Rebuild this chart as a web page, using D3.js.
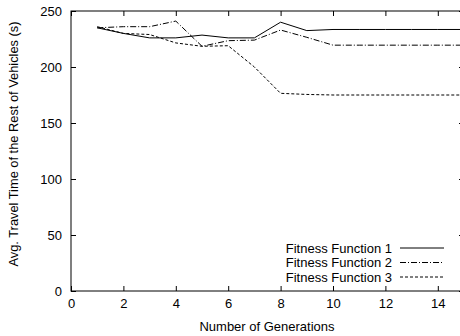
<!DOCTYPE html>
<html>
<head>
<meta charset="utf-8">
<script src="https://cdn.jsdelivr.net/npm/d3@7"></script>
<style>
  body { margin: 0; background: #fff; }
  svg { display: block; }
  text { font-family: "Liberation Sans", Arial, sans-serif; font-size: 13px; fill: #000; }
</style>
</head>
<body>
<div id="viz"></div>
<script>
var generations = [1, 2, 3, 4, 5, 6, 7, 8, 9, 10, 11, 12, 13, 14, 15];
var ff1 = [235, 230, 226, 226, 228.5, 226, 226, 240, 232.5, 233.5, 233.5, 233.5, 233.5, 233.5, 233.5];
var ff2 = [235, 236, 236, 241, 218.5, 223.5, 224, 233, 226.5, 219.5, 219.5, 219.5, 219.5, 219.5, 219.5];
var ff3 = [236, 230, 229, 221.5, 218.5, 219, 200, 176.5, 175.5, 175, 175, 175, 175, 175, 175];
var seriesNames = ["Fitness Function 1", "Fitness Function 2", "Fitness Function 3"];
var xTicks = [0, 2, 4, 6, 8, 10, 12, 14];
var yTicks = [0, 50, 100, 150, 200, 250];

var series = [ff1, ff2, ff3];
var dashes = [null, "6,2,1,2", "3,2"];

var width = 460, height = 336;
var margin = {top: 11, right: -4, bottom: 45, left: 71};

var svg = d3.select("#viz").append("svg").attr("width", width).attr("height", height);

var x = d3.scaleLinear().domain([0, 15]).range([margin.left, width - margin.right]);
var y = d3.scaleLinear().domain([0, 250]).range([height - margin.bottom, margin.top]);

var g = svg.append("g");

// frame
g.append("rect")
    .attr("x", x(0)).attr("y", y(250))
    .attr("width", x(15) - x(0)).attr("height", y(0) - y(250))
    .style("fill", "none").style("stroke", "#000").style("stroke-width", 1);

// bottom axis
var xb = g.append("g").attr("transform", "translate(0," + y(0) + ")")
    .call(d3.axisBottom(x).tickValues(xTicks).tickSize(-5).tickPadding(8).tickFormat(d3.format("d")));
// top mirror ticks
var xt = g.append("g").attr("transform", "translate(0," + y(250) + ")")
    .call(d3.axisTop(x).tickValues(xTicks).tickSize(-5).tickFormat(""));
// left axis
var yl = g.append("g").attr("transform", "translate(" + x(0) + ",0)")
    .call(d3.axisLeft(y).tickValues(yTicks).tickSize(-5).tickPadding(9));
// right mirror ticks
var yr = g.append("g").attr("transform", "translate(" + x(15) + ",0)")
    .call(d3.axisRight(y).tickValues(yTicks).tickSize(-5).tickFormat(""));

[xb, xt, yl, yr].forEach(function(a){
  a.select(".domain").remove();
  a.selectAll("line").style("stroke", "#000");
  a.selectAll("text").style("font-family", null).style("font-size", null);
});
yl.selectAll("text").attr("x", -9);

// lines
var line = d3.line()
    .x(function(d, i) { return x(generations[i]); })
    .y(function(d) { return y(d); });

series.forEach(function(s, i){
  g.append("path")
      .datum(s)
      .attr("d", line)
      .style("fill", "none")
      .style("stroke", "#000")
      .style("stroke-width", 1)
      .style("stroke-dasharray", dashes[i]);
});

// legend
seriesNames.forEach(function(name, i){
  var ly = 248 + i * 14.5;
  g.append("text")
      .attr("x", 392).attr("y", ly + 4.5)
      .style("text-anchor", "end")
      .text(name);
  g.append("line")
      .attr("x1", 400).attr("x2", 444)
      .attr("y1", ly).attr("y2", ly)
      .style("stroke", "#000")
      .style("stroke-dasharray", dashes[i]);
});

// axis titles
g.append("text")
    .attr("x", 267).attr("y", 331)
    .style("text-anchor", "middle")
    .text("Number of Generations");

g.append("text")
    .attr("transform", "translate(17.5,144) rotate(-90)")
    .style("text-anchor", "middle")
    .style("font-size", "12.5px")
    .attr("textLength", 245)
    .attr("lengthAdjust", "spacingAndGlyphs")
    .text("Avg. Travel Time of the Rest of Vehicles (s)");
</script>
</body>
</html>
